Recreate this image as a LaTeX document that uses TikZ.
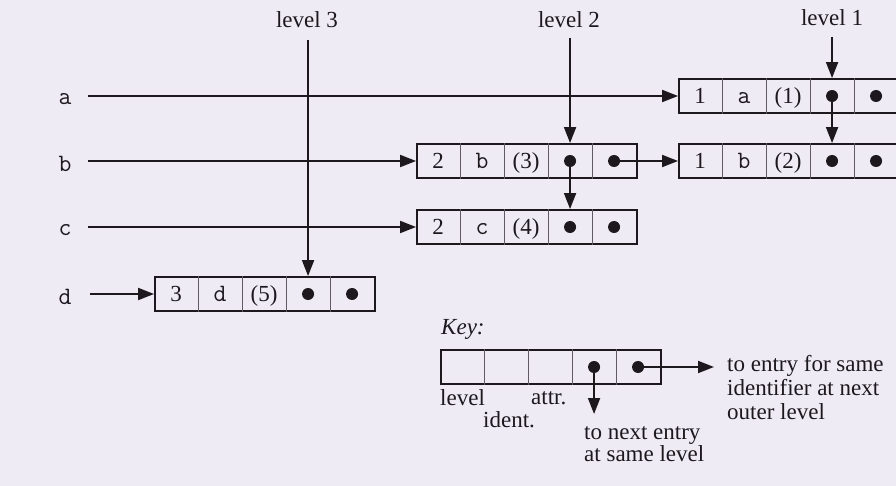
\documentclass[tikz,border=0pt]{standalone}
\usepackage{fontspec}
\setmainfont{Liberation Serif}
\usetikzlibrary{arrows.meta,calc}
\definecolor{bg}{RGB}{238,235,244}
\definecolor{ink}{RGB}{28,24,30}
\definecolor{divcol}{RGB}{95,90,100}

\newcommand\mkrecord[6]{%
  \node[rec] (#1) at (#2,#3) {};
  \foreach \k in {1,...,4} {\draw[divider] ($(#1.north west)+(\k*44,0)$) -- ($(#1.south west)+(\k*44,0)$);}
  \node[celltxt] (#1-lv) at ($(#1.west)+(22,0)$) {#4};
  \node[celltxt] (#1-id) at ($(#1.west)+(66,0)$) {\fontsize{25}{26}\selectfont\ttfamily #5};
  \node[celltxt] (#1-at) at ($(#1.west)+(110,0)$) {#6};
  \node[dot] (#1-p1) at ($(#1.west)+(154,0)$) {};
  \node[dot] (#1-p2) at ($(#1.west)+(198,0)$) {};
}

\begin{document}
\begin{tikzpicture}[x=1pt,y=-1pt,
  font=\fontsize{23}{26}\selectfont,
  every node/.style={text=ink},
  rec/.style={draw=ink,line width=1.9pt,minimum width=220pt,minimum height=34pt,inner sep=0pt},
  divider/.style={draw=divcol,line width=0.9pt},
  celltxt/.style={inner sep=0pt,text height=15pt,text depth=0pt},
  dot/.style={circle,fill=ink,inner sep=0pt,minimum size=12pt},
  arr/.style={draw=ink,line width=1.9pt,-{Triangle[length=16pt,width=12pt]}},
  idlbl/.style={inner sep=0pt,font=\fontsize{25}{26}\selectfont\ttfamily},
  lvlbl/.style={inner sep=0pt},
]
\fill[bg] (0,0) rectangle (896,486);
\useasboundingbox (0,0) rectangle (896,486);

% records
\mkrecord{ra}{789}{96}{1}{a}{(1)}
\mkrecord{rb1}{789}{161}{1}{b}{(2)}
\mkrecord{rb2}{527}{161}{2}{b}{(3)}
\mkrecord{rc}{527}{227}{2}{c}{(4)}
\mkrecord{rd}{265}{294}{3}{d}{(5)}
\mkrecord{key}{551}{367}{}{}{}

% identifier labels
\node[idlbl] (la) at (65,99) {a};
\node[idlbl] (lb) at (65,164) {b};
\node[idlbl] (lc) at (65,230) {c};
\node[idlbl] (ld) at (65,297) {d};

\draw[arr] ([xshift=23pt,yshift=3pt]la.center) -- (ra.west);
\draw[arr] ([xshift=23pt,yshift=3pt]lb.center) -- (rb2.west);
\draw[arr] ([xshift=23pt,yshift=3pt]lc.center) -- (rc.west);
\draw[arr] ([xshift=25pt,yshift=3pt]ld.center) -- (rd.west);

% level labels
\node[lvlbl] (lv3) at (307,20) {level 3};
\node[lvlbl] (lv2) at (569,20) {level 2};
\node[lvlbl] (lv1) at (832,18) {level 1};

\draw[arr] (rd-p1 |- 0,40) coordinate (lv3top) -- (rd-p1 |- rd.north);
\draw[arr] (rb2-p1 |- 0,38) coordinate (lv2top) -- (rb2-p1 |- rb2.north);
\draw[arr] (ra-p1 |- 0,37) coordinate (lv1top) -- (ra-p1 |- ra.north);

% pointer links
\draw[arr] (rb2-p1.center) -- (rb2-p1 |- rc.north);
\draw[arr] (rb2-p2.center) -- (rb1.west |- rb2-p2);
\draw[arr] (ra-p1.center) -- (ra-p1 |- rb1.north);

% key
\node[anchor=west,inner sep=0pt,font=\fontsize{23}{26}\selectfont\itshape] (keylbl) at (441,329) {Key:};
\node[anchor=west,inner sep=0pt] (klevel) at (440,398) {level};
\node[anchor=west,inner sep=0pt] (kattr) at (531,398) {attr.};
\node[anchor=west,inner sep=0pt] (kident) at (483,420) {ident.};
\coordinate (kdown) at (595,414);
\coordinate (kright) at (714,367);
\draw[arr] (key-p1.center) -- (key-p1 |- kdown);
\draw[arr] (key-p2.center) -- (kright);
\node[anchor=north west,inner sep=0pt,align=left,font=\fontsize{23}{22}\selectfont] (knext) at (584,426) {to next entry\\at same level};
\node[anchor=north west,inner sep=0pt,align=left,font=\fontsize{23}{24}\selectfont] (kouter) at (727,355) {to entry for same\\identifier at next\\outer level};
\end{tikzpicture}
\end{document}
